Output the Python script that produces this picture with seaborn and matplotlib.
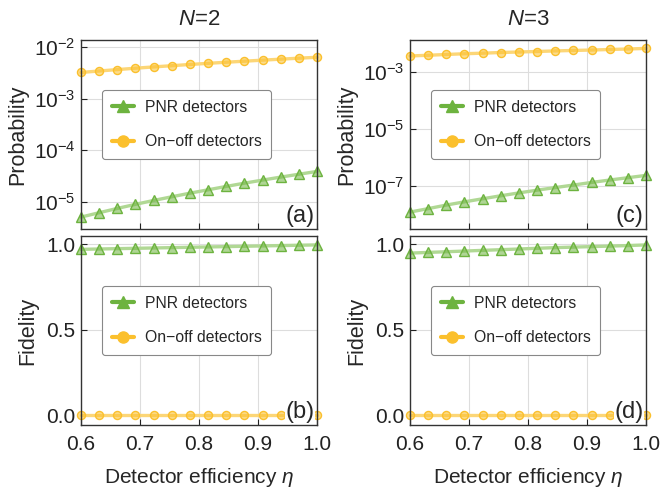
import numpy as np
import matplotlib
matplotlib.use("Agg")
import matplotlib.pyplot as plt
import seaborn as sns
from matplotlib.lines import Line2D
from matplotlib.colors import to_rgba
import matplotlib.ticker as mticker

# detector efficiency (14 points from 0.6 to 1.0)
eta = [0.6, 0.6308, 0.6615, 0.6923, 0.7231, 0.7538, 0.7846,
       0.8154, 0.8462, 0.8769, 0.9077, 0.9385, 0.9692, 1.0]

# N=2 probabilities
prob_pnr_n2 = [5.1e-6, 6.2e-6, 7.5e-6, 9.0e-6, 1.07e-5, 1.26e-5, 1.48e-5,
               1.72e-5, 2.0e-5, 2.31e-5, 2.65e-5, 3.03e-5, 3.44e-5, 3.9e-5]
prob_onoff_n2 = [3.2e-3, 3.42e-3, 3.64e-3, 3.87e-3, 4.1e-3, 4.33e-3, 4.57e-3,
                 4.81e-3, 5.05e-3, 5.29e-3, 5.54e-3, 5.79e-3, 6.05e-3, 6.3e-3]
# N=3 probabilities
prob_pnr_n3 = [1.25e-8, 1.65e-8, 2.2e-8, 2.85e-8, 3.65e-8, 4.65e-8, 5.85e-8,
               7.3e-8, 9.0e-8, 1.1e-7, 1.36e-7, 1.65e-7, 1.99e-7, 2.4e-7]
prob_onoff_n3 = [3.6e-3, 3.8e-3, 4.05e-3, 4.3e-3, 4.5e-3, 4.75e-3, 4.95e-3,
                 5.15e-3, 5.4e-3, 5.6e-3, 5.8e-3, 6.05e-3, 6.3e-3, 6.6e-3]

# fidelities
fid_pnr_n2 = [0.969, 0.971, 0.973, 0.975, 0.977, 0.979, 0.981,
              0.983, 0.985, 0.987, 0.989, 0.991, 0.993, 0.995]
fid_onoff_n2 = [0.002] * 14
fid_pnr_n3 = [0.947, 0.951, 0.955, 0.959, 0.963, 0.967, 0.971,
              0.975, 0.979, 0.982, 0.985, 0.988, 0.991, 0.995]
fid_onoff_n3 = [0.001] * 14

titles = ["$\\mathit{N}$=2", "$\\mathit{N}$=3"]
panel_labels = [["(a)", "(b)"], ["(c)", "(d)"]]

sns.set_style("whitegrid")
plt.rcParams["font.family"] = ["Liberation Sans", "DejaVu Sans"]
plt.rcParams["mathtext.fontset"] = "custom"
plt.rcParams["mathtext.rm"] = "Liberation Sans"
plt.rcParams["mathtext.it"] = "Liberation Sans:italic"
plt.rcParams["axes.unicode_minus"] = True

green = "#6db33f"
green_line = "#b0d894"
yellow = "#fbc02d"
yellow_line = "#fcd677"

fig = plt.figure(figsize=(6.6, 4.91), dpi=100)
lefts = [81 / 660, 410 / 660]
w = 236 / 660
h = 189 / 491
bottoms = [1 - 229 / 491, 1 - 425 / 491]

data = [
    [(prob_pnr_n2, prob_onoff_n2), (fid_pnr_n2, fid_onoff_n2)],
    [(prob_pnr_n3, prob_onoff_n3), (fid_pnr_n3, fid_onoff_n3)],
]


def draw(ax, y, col, lcol, mk, ms):
    sns.lineplot(x=eta, y=y, ax=ax, color=lcol, lw=2.4, marker=mk, markersize=ms,
                 markerfacecolor=to_rgba(col, 0.55), markeredgecolor=col,
                 markeredgewidth=1.0, clip_on=False, zorder=2)


for c in range(2):
    for r in range(2):
        ax = fig.add_axes([lefts[c], bottoms[r], w, h])
        pnr, onoff = data[c][r]
        draw(ax, pnr, green, green_line, "^", 6.8)
        draw(ax, onoff, yellow, yellow_line, "o", 5.8)
        ax.set_xlim(0.6, 1.0)
        ax.set_xticks([0.6, 0.7, 0.8, 0.9, 1.0])
        ax.xaxis.set_major_formatter(mticker.FormatStrFormatter("%.1f"))
        if r == 0:
            ax.set_yscale("log")
            if c == 0:
                ax.set_ylim(3.0e-6, 1.36e-2)
                ax.set_yticks([1e-5, 1e-4, 1e-3, 1e-2])
            else:
                ax.set_ylim(3.2e-9, 1.3e-2)
                ax.set_yticks([1e-7, 1e-5, 1e-3])
            ax.yaxis.set_minor_locator(mticker.NullLocator())
            ax.set_ylabel("Probability", fontsize=15.5, labelpad=4)
            ax.tick_params(axis="x", labelbottom=False)
            ax.set_title(titles[c], fontsize=16, pad=11)
        else:
            ax.set_ylim(-0.058, 1.047)
            ax.set_yticks([0.0, 0.5, 1.0])
            ax.yaxis.set_major_formatter(mticker.FormatStrFormatter("%.1f"))
            ax.set_ylabel("Fidelity", fontsize=15.5, labelpad=6)
            ax.set_xlabel("Detector efficiency $\\eta$", fontsize=15, labelpad=9)
        ax.tick_params(direction="in", length=4, width=0.8, labelsize=15,
                       colors="#222222", bottom=True, left=True)
        ax.tick_params(axis="x", pad=7)
        ax.tick_params(axis="y", pad=4)
        ax.grid(True, color="#dddddd", lw=0.8)
        for s in ax.spines.values():
            s.set_edgecolor("#333333")
            s.set_linewidth(1.0)
        ax.text(0.99, 0.01, panel_labels[c][r], transform=ax.transAxes,
                ha="right", va="bottom", fontsize=17, zorder=5,
                bbox=dict(facecolor="white", edgecolor="none", pad=0.5))
        handles = [
            Line2D([], [], color=green, lw=3, marker="^", markersize=8, label="PNR detectors"),
            Line2D([], [], color=yellow, lw=3, marker="o", markersize=8, label="On\u2212off detectors"),
        ]
        leg = ax.legend(handles=handles, loc="center", bbox_to_anchor=(0.447, 0.553),
                        fontsize=11.3, frameon=True, fancybox=True, edgecolor="#888888",
                        labelspacing=1.25, borderpad=0.6, handlelength=1.4,
                        handletextpad=0.7, framealpha=1.0)
        leg.get_frame().set_linewidth(0.8)

fig.savefig("out.png", dpi=100)
